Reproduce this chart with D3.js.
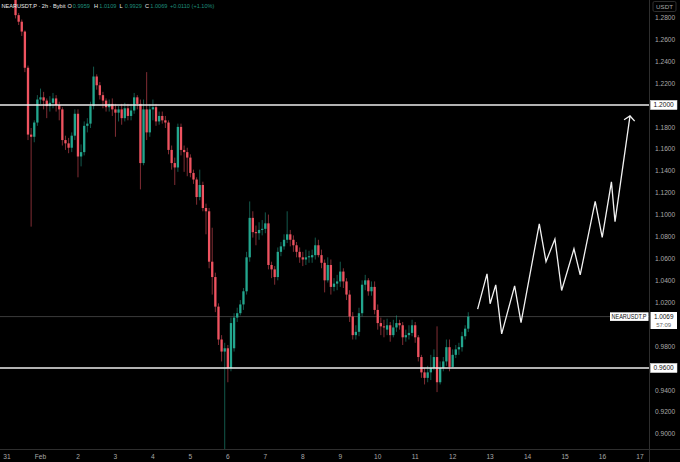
<!DOCTYPE html>
<html><head><meta charset="utf-8">
<script src="https://cdn.jsdelivr.net/npm/d3@7"></script>
<style>html,body{margin:0;padding:0;background:#000;overflow:hidden}svg{display:block}</style>
</head><body>
<svg id="c" width="680" height="462"></svg>
<script>
// ---------------- data ----------------
const symbolLabel = "NEARUSDT.P";
const headerTitle = "NEARUSDT.P · 2h · Bybit";
const startTime = new Date(2026, 0, 31, 0, 0);   // first 2h candle
const intervalHours = 2;

const opens = [1.345,1.338,1.326,1.318,
1.302,1.282,1.276,1.267,1.234,1.173,1.171,1.184,1.205,1.207,1.204,1.199,1.202,1.206,1.200,1.196,
1.168,1.165,1.161,1.172,1.192,1.153,1.157,1.181,1.183,1.199,1.226,1.218,1.209,1.204,1.198,1.201,
1.196,1.193,1.196,1.188,1.197,1.190,1.195,1.207,1.201,1.147,1.196,1.175,1.196,1.198,1.185,1.190,
1.186,1.184,1.159,1.147,1.143,1.180,1.159,1.157,1.152,1.138,1.132,1.116,1.127,1.106,1.103,1.057,
1.043,1.016,0.986,0.975,0.978,0.960,0.978,1.006,1.010,1.018,1.030,1.061,1.097,1.084,1.083,1.086,
1.087,1.092,1.054,1.050,1.043,1.066,1.071,1.077,1.082,1.077,1.072,1.066,1.061,1.059,1.061,1.061,
1.063,1.072,1.063,1.056,1.040,1.054,1.034,1.037,1.039,1.048,1.039,1.027,1.007,0.990,0.993,1.010,
1.036,1.040,1.030,1.034,1.013,1.001,0.998,0.995,0.999,0.990,0.997,1.001,0.999,0.988,0.990,0.992,
0.999,0.988,0.970,0.956,0.951,0.956,0.960,0.970,0.947,0.960,0.966,0.979,0.961,0.972,0.977,0.979,
0.989,0.9959];
const closes = [1.338,1.326,1.318,1.302,
1.282,1.276,1.267,1.234,1.173,1.171,1.184,1.205,1.207,1.204,1.199,1.202,1.206,1.200,1.196,1.168,
1.165,1.161,1.172,1.192,1.153,1.157,1.181,1.183,1.199,1.226,1.218,1.209,1.204,1.198,1.201,1.196,
1.193,1.196,1.188,1.197,1.190,1.195,1.207,1.201,1.147,1.196,1.175,1.196,1.198,1.185,1.190,1.186,
1.184,1.159,1.147,1.143,1.180,1.159,1.157,1.152,1.138,1.132,1.116,1.127,1.106,1.103,1.057,1.043,
1.016,0.986,0.975,0.978,0.960,1.001,1.006,1.010,1.018,1.030,1.061,1.097,1.084,1.083,1.086,1.087,
1.092,1.054,1.050,1.043,1.066,1.071,1.077,1.082,1.077,1.072,1.066,1.061,1.059,1.061,1.062,1.063,
1.072,1.063,1.056,1.040,1.054,1.034,1.037,1.039,1.048,1.039,1.027,1.007,0.990,0.993,1.010,1.036,
1.040,1.030,1.034,1.013,1.001,0.998,0.997,0.999,0.990,0.997,1.001,0.999,0.988,0.990,0.992,0.999,
0.988,0.970,0.956,0.951,0.956,0.960,0.970,0.947,0.960,0.966,0.979,0.961,0.972,0.977,0.979,0.989,
0.9959,1.0069];
const highs = [1.350,1.341,1.330,1.321,
1.303,1.284,1.278,1.268,1.236,1.179,1.186,1.209,1.215,1.212,1.206,1.208,1.211,1.209,1.203,1.198,
1.172,1.170,1.175,1.196,1.196,1.164,1.185,1.188,1.203,1.235,1.228,1.221,1.212,1.206,1.205,1.206,
1.201,1.199,1.201,1.202,1.201,1.201,1.211,1.209,1.205,1.205,1.230,1.201,1.205,1.201,1.194,1.194,
1.190,1.186,1.163,1.152,1.183,1.183,1.163,1.161,1.155,1.141,1.134,1.141,1.130,1.110,1.106,1.088,
1.047,1.019,0.990,0.983,0.981,1.006,1.010,1.015,1.022,1.033,1.066,1.112,1.103,1.090,1.093,1.095,
1.102,1.100,1.057,1.053,1.070,1.075,1.082,1.103,1.086,1.081,1.075,1.070,1.066,1.068,1.067,1.068,
1.079,1.077,1.068,1.059,1.061,1.059,1.042,1.045,1.057,1.051,1.042,1.031,1.011,0.999,1.015,1.040,
1.045,1.042,1.039,1.039,1.018,1.006,1.004,1.005,1.002,1.004,1.008,1.004,1.002,0.995,0.999,1.004,
1.002,0.990,0.972,0.960,0.962,0.972,0.977,0.998,0.966,0.970,0.986,0.986,0.977,0.981,0.983,0.993,
0.999,1.0109];
const lows = [1.334,1.322,1.314,1.299,
1.279,1.273,1.263,1.230,1.168,1.089,1.166,1.181,1.201,1.196,1.188,1.194,1.197,1.194,1.186,1.163,
1.159,1.156,1.157,1.168,1.134,1.144,1.154,1.175,1.179,1.196,1.214,1.205,1.197,1.194,1.194,1.190,
1.171,1.185,1.182,1.185,1.186,1.186,1.192,1.196,1.123,1.145,1.168,1.171,1.186,1.181,1.182,1.183,
1.179,1.155,1.141,1.127,1.139,1.154,1.139,1.135,1.134,1.128,1.109,1.113,1.103,1.082,1.051,1.027,
1.011,0.981,0.966,0.870,0.947,0.957,0.975,1.002,1.008,1.013,1.027,1.057,1.079,1.072,1.077,1.081,
1.083,1.050,1.042,1.036,1.040,1.062,1.068,1.074,1.071,1.066,1.061,1.056,1.053,1.054,1.056,1.056,
1.059,1.061,1.051,1.029,1.038,1.027,1.030,1.031,1.034,1.033,1.022,1.002,0.986,0.986,0.989,1.007,
1.031,1.026,1.026,1.009,0.995,0.990,0.988,0.990,0.984,0.988,0.993,0.995,0.981,0.984,0.986,0.989,
0.983,0.966,0.951,0.945,0.947,0.949,0.958,0.938,0.945,0.957,0.962,0.957,0.960,0.969,0.972,0.975,
0.986,0.9929];

const levelPrices = [1.2, 0.96];
const lastPrice = 1.0069;
const countdownText = "57:09";
const headerValues = [["O","0.9959"],["H","1.0109"],["L","0.9929"],["C","1.0069"]];
const headerChange = "+0.0110 (+1.10%)";

const projTimes = ["2026-02-12T16:00","2026-02-12T22:00","2026-02-13T00:00","2026-02-13T03:36",
"2026-02-13T07:24","2026-02-13T15:42","2026-02-13T19:48","2026-02-14T07:30","2026-02-14T11:48",
"2026-02-14T17:30","2026-02-14T21:48","2026-02-15T05:42","2026-02-15T09:42","2026-02-15T19:18",
"2026-02-15T23:48","2026-02-16T05:42","2026-02-16T08:00","2026-02-16T17:36"];
const projPrices = [1.0137,1.0459,1.0186,1.0359,0.9912,1.0350,1.0015,1.0915,1.0571,1.0776,
1.0307,1.0687,1.0450,1.1120,1.0792,1.1298,1.0936,1.1900];

// visible price-axis labels (1.0000 is hidden behind the last-price tag)
const priceTicks = [0.90,0.92,0.94,0.96,0.98,1.02,1.04,1.06,1.08,1.10,1.12,1.14,1.16,1.18,1.20,1.22,1.24,1.26,1.28];
const dayTickDates = d3.timeDay.range(new Date(2026,0,31), new Date(2026,1,18));
const dayTickLabels = ["31","Feb","2","3","4","5","6","7","8","9","10","11","12","13","14","15","16","17"];

// ---------------- layout ----------------
const W = 680, H = 462, plotR = 649, plotB = 449;
const UP = "#23a68e", DOWN = "#ef5360", AX = "#a9a9a9", FONT = "'Liberation Sans', Arial, sans-serif";

const svg = d3.select("#c");
svg.append("rect").attr("width", W).attr("height", H).attr("fill", "#000");

const x = d3.scaleTime().domain([new Date(2026,1,1), new Date(2026,1,17)]).range([40.5, 640]);
const y = d3.scaleLinear().domain([0.96, 1.2]).range([368, 105]);

svg.append("defs").append("clipPath").attr("id","plot")
  .append("rect").attr("x",0).attr("y",0).attr("width",plotR).attr("height",plotB);

const plot = svg.append("g").attr("clip-path","url(#plot)");

const candles = opens.map((o,i)=>({t:d3.timeHour.offset(startTime, i*intervalHours), o, c:closes[i], h:highs[i], l:lows[i]}));
const step = x(candles[1].t) - x(candles[0].t);
const bw = step*0.74;

// last price line
plot.append("line").attr("x1",0).attr("x2",plotR).attr("y1",y(lastPrice)).attr("y2",y(lastPrice))
  .attr("stroke","#4a4a4a").attr("stroke-width",0.8);

// wicks
plot.append("g").selectAll("line").data(candles).join("line")
  .attr("x1",d=>x(d.t)).attr("x2",d=>x(d.t))
  .attr("y1",d=>y(d.h)).attr("y2",d=>y(d.l))
  .attr("stroke",d=>d.c>=d.o?UP:DOWN).attr("stroke-opacity",0.6).attr("stroke-width",0.9);

// bodies
plot.append("g").selectAll("rect").data(candles).join("rect")
  .attr("x",d=>x(d.t)-bw/2).attr("width",bw)
  .attr("y",d=>Math.min(y(d.o),y(d.c)))
  .attr("height",d=>Math.max(1,Math.abs(y(d.o)-y(d.c))))
  .attr("fill",d=>d.c>=d.o?UP:DOWN);

// horizontal levels
plot.append("g").selectAll("line").data(levelPrices).join("line")
  .attr("x1",0).attr("x2",plotR).attr("y1",d=>y(d)).attr("y2",d=>y(d))
  .attr("stroke","#ececec").attr("stroke-width",1.5);

// projection path
const proj = projTimes.map((t,i)=>({t:new Date(t), p:projPrices[i]}));
const line = d3.line().x(d=>x(d.t)).y(d=>y(d.p));
plot.append("path").datum(proj).attr("d",line).attr("fill","none")
  .attr("stroke","#f2f2f2").attr("stroke-width",1.3).attr("stroke-linejoin","miter");
// arrow head
{
  const a = proj[proj.length-1], b = proj[proj.length-2];
  const tx = x(a.t), ty = y(a.p);
  const ang = Math.atan2(y(b.p)-ty, x(b.t)-tx);
  const L = 7, spread = 0.87;
  const p1 = [tx+L*Math.cos(ang-spread), ty+L*Math.sin(ang-spread)];
  const p2 = [tx+L*Math.cos(ang+spread), ty+L*Math.sin(ang+spread)];
  plot.append("path").attr("d",`M${p1}L${tx},${ty}L${p2}`).attr("fill","none")
    .attr("stroke","#f2f2f2").attr("stroke-width",1.3);
}

// separators
svg.append("line").attr("x1",plotR+0.5).attr("x2",plotR+0.5).attr("y1",0).attr("y2",H).attr("stroke","#2e2e2e");
svg.append("line").attr("x1",0).attr("x2",W).attr("y1",plotB+0.5).attr("y2",plotB+0.5).attr("stroke","#2e2e2e");

// right price axis
const yAxis = d3.axisRight(y).tickValues(priceTicks).tickFormat(d3.format(".4f")).tickSize(0).tickPadding(6);
const ga = svg.append("g").attr("transform",`translate(${plotR},0)`).call(yAxis);
ga.select(".domain").remove();
ga.selectAll("text").attr("fill",AX).attr("font-size",6.6).attr("font-family",FONT);

// USDT label
svg.append("rect").attr("x",653).attr("y",1.5).attr("width",23).attr("height",10).attr("rx",1.5)
  .attr("fill","#000").attr("stroke","#3a3a3a").attr("stroke-width",0.8);
svg.append("text").attr("x",664.5).attr("y",9).attr("text-anchor","middle").attr("fill",AX)
  .attr("font-size",6.2).attr("font-family",FONT).text("USDT");

// level boxes on axis
levelPrices.forEach(p=>{
  svg.append("rect").attr("x",650.5).attr("y",y(p)-4.6).attr("width",26.5).attr("height",9.2)
    .attr("fill","#fff").attr("stroke","#ddd").attr("stroke-width",0.5);
  svg.append("text").attr("x",663.7).attr("y",y(p)+2.3).attr("text-anchor","middle")
    .attr("fill","#111").attr("font-size",6.6).attr("font-family",FONT).text(d3.format(".4f")(p));
});

// last price boxes
{
  const yy = y(lastPrice);
  svg.append("rect").attr("x",650.5).attr("y",yy-4.6).attr("width",26.5).attr("height",17)
    .attr("fill","#fff");
  svg.append("text").attr("x",663.7).attr("y",yy+2).attr("text-anchor","middle")
    .attr("fill","#111").attr("font-size",6.4).attr("font-family",FONT).text(d3.format(".4f")(lastPrice));
  svg.append("text").attr("x",663.7).attr("y",yy+10.3).attr("text-anchor","middle")
    .attr("fill","#666").attr("font-size",6).attr("font-family",FONT).text(countdownText);
  svg.append("rect").attr("x",610).attr("y",yy-4.3).attr("width",38.5).attr("height",8.6)
    .attr("fill","#fff");
  svg.append("text").attr("x",611.5).attr("y",yy+2.2)
    .attr("fill","#111").attr("font-size",6.3).attr("font-family",FONT)
    .attr("textLength",35).attr("lengthAdjust","spacingAndGlyphs").text(symbolLabel);
}

// bottom time axis
svg.append("g").selectAll("text").data(dayTickDates).join("text")
  .attr("x",d=>Math.max(7, x(d))).attr("y",459).attr("text-anchor","middle")
  .attr("fill",AX).attr("font-size",6.6).attr("font-family",FONT)
  .text((d,i)=>dayTickLabels[i]);

// header
const hdr = svg.append("g").attr("font-family",FONT).attr("font-size",5.6);
hdr.append("text").attr("x",1.5).attr("y",8.2).attr("fill","#ececec").text(headerTitle);
const hx = [67.5, 94, 119.5, 145];
headerValues.forEach((v,i)=>{
  hdr.append("text").attr("x",hx[i]).attr("y",8.2).attr("fill","#ececec").text(v[0]);
  hdr.append("text").attr("x",hx[i]+5.3).attr("y",8.2).attr("fill","#1f8f7a").text(v[1]);
});
hdr.append("text").attr("x",170).attr("y",8.2).attr("fill","#1f8f7a").text(headerChange);
</script>
</body></html>
